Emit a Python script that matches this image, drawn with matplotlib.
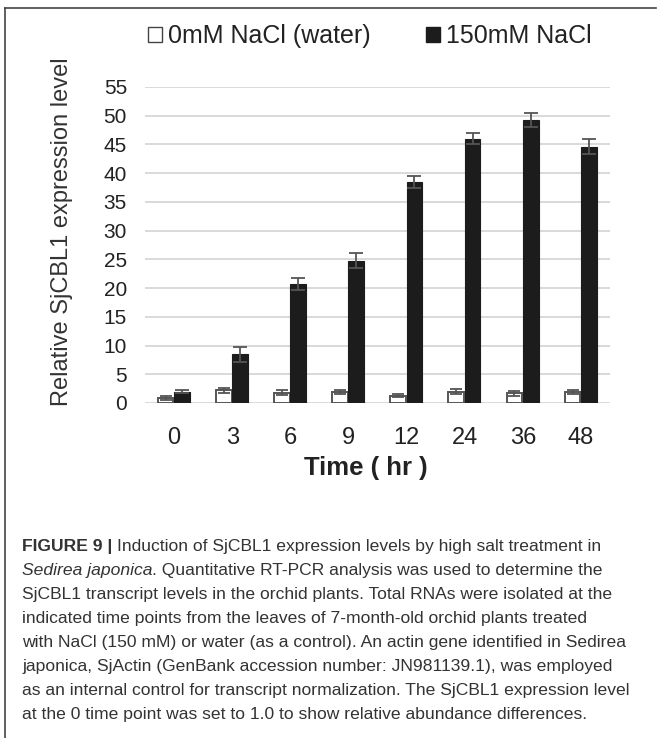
import matplotlib
matplotlib.use("Agg")
import matplotlib.pyplot as plt
import numpy as np
from matplotlib.lines import Line2D
from matplotlib.patches import Rectangle

categories = ["0", "3", "6", "9", "12", "24", "36", "48"]
water = [0.9, 2.2, 1.8, 1.9, 1.3, 2.0, 1.7, 1.9]
water_err = [0.3, 0.4, 0.4, 0.4, 0.3, 0.4, 0.4, 0.4]
salt = [2.0, 8.5, 20.7, 24.8, 38.5, 46.0, 49.3, 44.6]
salt_err = [0.2, 1.3, 1.0, 1.3, 1.0, 1.0, 1.2, 1.3]
yticks = [0, 5, 10, 15, 20, 25, 30, 35, 40, 45, 50, 55]

caption_lines = [
    [("FIGURE 9 | ", "bold", "normal"), ("Induction of SjCBL1 expression levels by high salt treatment in", "normal", "normal")],
    [("Sedirea japonica", "normal", "italic"), (". Quantitative RT-PCR analysis was used to determine the", "normal", "normal")],
    [("SjCBL1 transcript levels in the orchid plants. Total RNAs were isolated at the", "normal", "normal")],
    [("indicated time points from the leaves of 7-month-old orchid plants treated", "normal", "normal")],
    [("with NaCl (150 mM) or water (as a control). An actin gene identified in Sedirea", "normal", "normal")],
    [("japonica, SjActin (GenBank accession number: JN981139.1), was employed", "normal", "normal")],
    [("as an internal control for transcript normalization. The SjCBL1 expression level", "normal", "normal")],
    [("at the 0 time point was set to 1.0 to show relative abundance differences.", "normal", "normal")],
]

plt.rcParams["font.family"] = ["Liberation Sans", "DejaVu Sans"]

W, H = 657, 738
fig = plt.figure(figsize=(W / 100, H / 100), dpi=100)
fig.patch.set_facecolor("white")

def fx(px):
    return px / W

def fy(py):
    return 1 - py / H

# frame
frame_col = "#444444"
fig.add_artist(Line2D([fx(5), fx(5)], [fy(8), 0], color=frame_col, lw=1.2))
fig.add_artist(Line2D([fx(5), fx(656)], [fy(8), fy(8)], color=frame_col, lw=1.2))

ax = fig.add_axes([fx(145), fy(403), fx(610) - fx(145), fy(87) - fy(403)])
x = np.arange(len(categories))
w = 0.27
ax.bar(x - 0.145, water, w, color="white", edgecolor="#555555", linewidth=1.4, zorder=3)
ax.bar(x + 0.135, salt, w, color="#1c1c1c", edgecolor="#1c1c1c", linewidth=0.8, zorder=3)
ax.errorbar(x - 0.145, water, yerr=water_err, fmt="none", ecolor="#555555", elinewidth=1.3,
            capsize=4, capthick=1.3, zorder=4)
ax.errorbar(x + 0.135, salt, yerr=salt_err, fmt="none", ecolor="#555555", elinewidth=1.3,
            capsize=5, capthick=1.3, zorder=4)

ax.set_xlim(-0.5, len(categories) - 0.5)
ax.set_ylim(0, 55)
ax.set_yticks(yticks)
ax.set_xticks(x)
ax.set_xticklabels(categories, fontsize=17, color="#222222")
ax.tick_params(axis="x", length=0, pad=17)
ax.tick_params(axis="y", length=0, pad=13, labelsize=15, labelcolor="#222222")
ax.grid(axis="y", color="#cfcfcf", linewidth=1.1, zorder=0)
for s in ax.spines.values():
    s.set_visible(False)
ax.set_axisbelow(True)

fig.text(fx(366), fy(468), "Time ( hr )", fontsize=18.5, fontweight="bold", color="#222222",
         ha="center", va="center")
fig.text(fx(62), fy(232), "Relative SjCBL1 expression level", fontsize=17, color="#333333",
         rotation=90, ha="center", va="center")

handles = [Rectangle((0, 0), 1, 1, facecolor="white", edgecolor="#444444", linewidth=1.0),
           Rectangle((0, 0), 1, 1, facecolor="#1c1c1c", edgecolor="#1c1c1c")]
fig.legend(handles, ["0mM NaCl (water)", "150mM NaCl"], loc="center", bbox_to_anchor=(fx(370), fy(36)),
           ncol=2, frameon=False, fontsize=18, handlelength=0.55, handleheight=0.55,
           handletextpad=0.25, columnspacing=2.2, labelcolor="#222222")

# caption
renderer = fig.canvas.get_renderer()
y0 = 546
dy = 24.0
for i, parts in enumerate(caption_lines):
    xpos = fx(22)
    for text, weight, style in parts:
        t = fig.text(xpos, fy(y0 + i * dy), text, fontsize=12.6, fontweight=weight, fontstyle=style,
                     color="#333333", ha="left", va="center")
        bb = t.get_window_extent(renderer=renderer)
        xpos += bb.width / W

fig.savefig("out.png", dpi=100, facecolor="white")
